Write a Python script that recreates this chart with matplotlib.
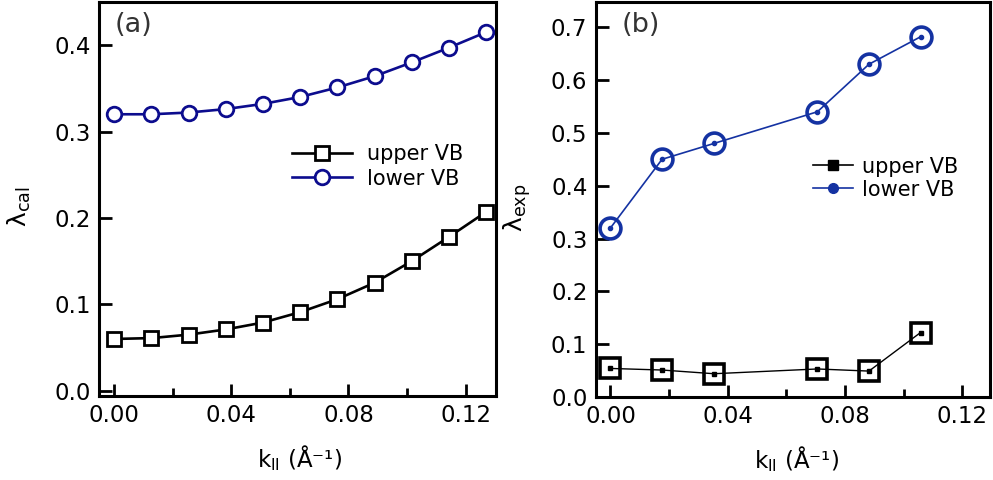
import numpy as np
import matplotlib
matplotlib.use('Agg')
import matplotlib.pyplot as plt
from matplotlib.lines import Line2D
from matplotlib.ticker import MultipleLocator

plt.rcParams['font.family'] = ['DejaVu Sans']
plt.rcParams['mathtext.fontset'] = 'dejavusans'

# (a) calculated
k_cal = [0.0, 0.0127, 0.0254, 0.0381, 0.0508, 0.0635, 0.0762, 0.0889, 0.1016, 0.1143, 0.127]
upper_cal = [0.060, 0.061, 0.065, 0.071, 0.079, 0.091, 0.106, 0.125, 0.150, 0.178, 0.207]
lower_cal = [0.320, 0.320, 0.322, 0.326, 0.332, 0.340, 0.351, 0.364, 0.380, 0.397, 0.415]

# (b) experimental
k_exp = [0.0, 0.0176, 0.0353, 0.0706, 0.0882, 0.1058]
upper_exp = [0.054, 0.051, 0.044, 0.053, 0.049, 0.122]
lower_exp = [0.320, 0.450, 0.480, 0.540, 0.630, 0.682]

navy = '#0c0c8e'
blue_b = '#1432a2'
FS = 16.5

fig = plt.figure(figsize=(9.93, 4.8), dpi=100)
ax1 = fig.add_axes([0.0997, 0.175, 0.3998, 0.821])
ax2 = fig.add_axes([0.600, 0.173, 0.397, 0.823])

def style(ax):
    for s in ax.spines.values():
        s.set_linewidth(2.2)
    ax.tick_params(which='major', direction='in', length=9, width=2.0, labelsize=FS,
                   top=False, right=False, pad=6)
    ax.tick_params(which='minor', direction='in', length=5.5, width=2.0,
                   top=False, right=False)
    ax.xaxis.set_major_locator(MultipleLocator(0.04))
    ax.xaxis.set_minor_locator(MultipleLocator(0.02))
    ax.xaxis.set_major_formatter(plt.FormatStrFormatter('%.2f'))
    ax.yaxis.set_major_formatter(plt.FormatStrFormatter('%.1f'))

xlab = 'k$_{\\rm ll}$ (Å⁻¹)'

# ---- panel (a)
ax1.plot(k_cal, upper_cal, color='black', lw=1.9, marker='s', ms=10.5,
         mfc='white', mec='black', mew=2.0, label='upper VB')
ax1.plot(k_cal, lower_cal, color=navy, lw=1.9, marker='o', ms=10.5,
         mfc='white', mec=navy, mew=2.0, label='lower VB')
ax1.set_xlim(-0.0052, 0.1304)
ax1.set_ylim(-0.006, 0.45)
ax1.yaxis.set_major_locator(MultipleLocator(0.1))
style(ax1)
ax1.set_ylabel('λ$_{\\rm cal}$', fontsize=18)
ax1.set_xlabel(xlab, fontsize=FS)
ax1.yaxis.set_label_coords(-0.166, 0.48)
ax1.xaxis.set_label_coords(0.506, -0.12)
ax1.text(0.04, 0.975, '(a)', transform=ax1.transAxes, fontsize=19.5, va='top',
         color='#333333')
ax1.legend(loc='upper left', bbox_to_anchor=(0.46, 0.665), frameon=False,
           fontsize=15, handlelength=2.9, handletextpad=0.7, labelspacing=0.2,
           borderpad=0)

# ---- panel (b)
ax2.plot(k_exp, upper_exp, color='black', lw=1.0, marker='s', ms=3, mfc='black',
         mec='black')
ax2.plot(k_exp, upper_exp, ls='none', marker='s', ms=15, mfc='none', mec='black', mew=2.6)
ax2.plot(k_exp, lower_exp, color=blue_b, lw=1.2, marker='o', ms=3, mfc=blue_b,
         mec=blue_b)
ax2.plot(k_exp, lower_exp, ls='none', marker='o', ms=15, mfc='none', mec=blue_b, mew=2.6)
ax2.set_xlim(-0.005, 0.1295)
ax2.set_ylim(0.0, 0.748)
ax2.yaxis.set_major_locator(MultipleLocator(0.1))
style(ax2)
ax2.set_ylabel('λ$_{\\rm exp}$', fontsize=18)
ax2.set_xlabel(xlab, fontsize=FS)
ax2.yaxis.set_label_coords(-0.16, 0.48)
ax2.xaxis.set_label_coords(0.51, -0.12)
ax2.text(0.065, 0.975, '(b)', transform=ax2.transAxes, fontsize=19.5, va='top',
         color='#333333')
handles = [
    Line2D([], [], color='black', lw=1.2, marker='s', ms=7, mfc='black', mec='black'),
    Line2D([], [], color=blue_b, lw=1.2, marker='o', ms=7, mfc=blue_b, mec=blue_b),
]
ax2.legend(handles, ['upper VB', 'lower VB'], loc='upper left',
           bbox_to_anchor=(0.525, 0.635), frameon=False, fontsize=15,
           handlelength=1.9, handletextpad=0.45, labelspacing=0.15, borderpad=0)

fig.savefig('out.png', dpi=100)
